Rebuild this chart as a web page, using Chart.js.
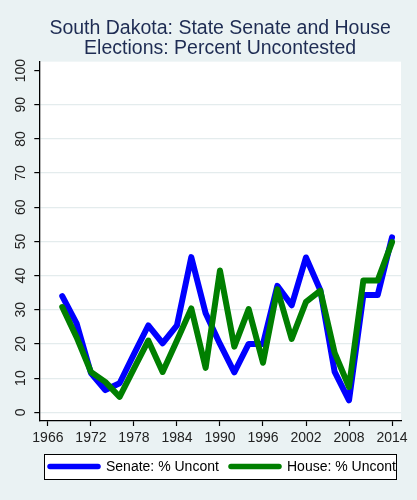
<!DOCTYPE html>
<html>
<head>
<meta charset="utf-8">
<script src="https://cdn.jsdelivr.net/npm/chart.js@4.4.1/dist/chart.umd.min.js"></script>
<style>
  html, body { margin: 0; padding: 0; background: #eaf2f3; }
  canvas { display: block; }
</style>
</head>
<body>
<canvas id="grafico" width="417" height="500"></canvas>
<script>
// dados
var anos = [1968, 1970, 1972, 1974, 1976, 1978, 1980, 1982, 1984, 1986, 1988, 1990,
            1992, 1994, 1996, 1998, 2000, 2002, 2004, 2006, 2008, 2010, 2012, 2014];
var senado = [34, 26, 11.5, 6.5, 8.5, 17, 25.4, 20.2, 25.4, 45.4, 29, 20,
              11.7, 20, 20, 37, 31.3, 45.3, 35.7, 11.8, 3.5, 34.3, 34.3, 51.2];
var camara = [30.8, 22, 11.8, 8.9, 4.5, 12.8, 21, 11.8, 21, 30.4, 13, 41.5,
              19.2, 30.2, 14.5, 36, 21.5, 32.3, 35.6, 17.4, 7.4, 38.6, 38.6, 49.8];
var ticksX = [1966, 1972, 1978, 1984, 1990, 1996, 2002, 2008, 2014];
var ticksY = [0, 10, 20, 30, 40, 50, 60, 70, 80, 90, 100];

var fundo = '#eaf2f3';
var fonte = '"Liberation Sans", Arial, sans-serif';

function pontos(valores) {
    return anos.map(function(a, i) { return { x: a, y: valores[i] }; });
}

// fundo, area branca, rotulos do eixo y e legenda
var desenhoStata = {
    id: 'desenhoStata',
    beforeDraw: function(chart) {
        var ctx = chart.ctx, a = chart.chartArea;
        ctx.save();
        ctx.fillStyle = fundo;
        ctx.fillRect(0, 0, chart.width, chart.height);
        ctx.fillStyle = '#ffffff';
        ctx.fillRect(a.left, a.top, a.right - a.left, a.bottom - a.top);
        ctx.restore();
    },
    afterDraw: function(chart) {
        var ctx = chart.ctx;
        var escalaY = chart.scales.y;
        ctx.save();
        ctx.fillStyle = '#222';
        ctx.font = '14px ' + fonte;
        ctx.textAlign = 'center';
        ctx.textBaseline = 'middle';
        ticksY.forEach(function(v) {
            var y = escalaY.getPixelForValue(v);
            ctx.save();
            ctx.translate(21, y);
            ctx.rotate(-Math.PI / 2);
            ctx.fillText(String(v), 0, 0);
            ctx.restore();
        });
        ctx.restore();

        // legenda com caixa
        var bx = 44, by = 454, bw = 352, bh = 25;
        ctx.save();
        ctx.fillStyle = '#ffffff';
        ctx.fillRect(bx, by, bw, bh);
        ctx.beginPath();
        ctx.rect(bx, by, bw, bh);
        ctx.clip();
        var inicio = [48, 229];
        chart.data.datasets.forEach(function(ds, i) {
            var x0 = inicio[i], yc = by + bh / 2;
            ctx.strokeStyle = ds.borderColor;
            ctx.lineWidth = 5.5;
            ctx.lineCap = 'round';
            ctx.beginPath();
            ctx.moveTo(x0 + 2, yc);
            ctx.lineTo(x0 + 50, yc);
            ctx.stroke();
            ctx.fillStyle = '#000';
            ctx.font = '14px ' + fonte;
            ctx.textAlign = 'left';
            ctx.textBaseline = 'middle';
            ctx.fillText(ds.label, x0 + 58, yc + 1);
        });
        ctx.restore();
        ctx.save();
        ctx.strokeStyle = '#000';
        ctx.lineWidth = 1;
        ctx.strokeRect(bx + 0.5, by + 0.5, bw, bh);
        ctx.restore();
    }
};

var ctx = document.getElementById('grafico').getContext('2d');
var grafico = new Chart(ctx, {
    type: 'line',
    data: {
        datasets: [{
            label: 'Senate: % Uncont',
            data: pontos(senado),
            borderColor: '#0000ff',
            borderWidth: 6,
            borderCapStyle: 'round',
            borderJoinStyle: 'round',
            pointRadius: 0,
            tension: 0,
            order: 1
        }, {
            label: 'House: % Uncont',
            data: pontos(camara),
            borderColor: '#007f00',
            borderWidth: 6,
            borderCapStyle: 'round',
            borderJoinStyle: 'round',
            pointRadius: 0,
            tension: 0,
            order: 0
        }]
    },
    options: {
        responsive: false,
        animation: false,
        devicePixelRatio: 1,
        layout: { padding: { left: 0, right: 16, top: 0, bottom: 0 } },
        plugins: {
            legend: { display: false },
            tooltip: { enabled: false },
            title: {
                display: true,
                fullSize: false,
                text: ['South Dakota: State Senate and House', 'Elections: Percent Uncontested'],
                color: '#1e2c53',
                font: { family: fonte, size: 19.5, weight: 'normal', lineHeight: 1.03 },
                padding: { top: 18.5, bottom: 3 }
            }
        },
        scales: {
            x: {
                type: 'linear',
                min: 1964.8,
                max: 2015.25,
                afterBuildTicks: function(scale) {
                    scale.ticks = ticksX.map(function(v) { return { value: v }; });
                },
                afterFit: function(scale) { scale.height = 79; },
                border: { color: '#000', width: 1.3 },
                grid: { drawOnChartArea: false, tickLength: 5, tickColor: '#000', tickWidth: 1.2 },
                ticks: {
                    color: '#222',
                    font: { family: fonte, size: 14 },
                    padding: 4,
                    maxRotation: 0,
                    autoSkip: false,
                    callback: function(v) { return String(v); }
                }
            },
            y: {
                min: -2.55,
                max: 102.6,
                afterBuildTicks: function(scale) {
                    scale.ticks = ticksY.map(function(v) { return { value: v }; });
                },
                afterFit: function(scale) { scale.width = 39.3; },
                border: { color: '#000', width: 1.3 },
                grid: {
                    color: function(c) { return c.tick && c.tick.value === 100 ? 'rgba(0,0,0,0)' : '#e4eced'; },
                    lineWidth: 1.2,
                    tickLength: 5,
                    tickColor: '#000',
                    tickWidth: 1.2
                },
                ticks: { display: false }
            }
        }
    },
    plugins: [desenhoStata]
});
</script>
</body>
</html>
